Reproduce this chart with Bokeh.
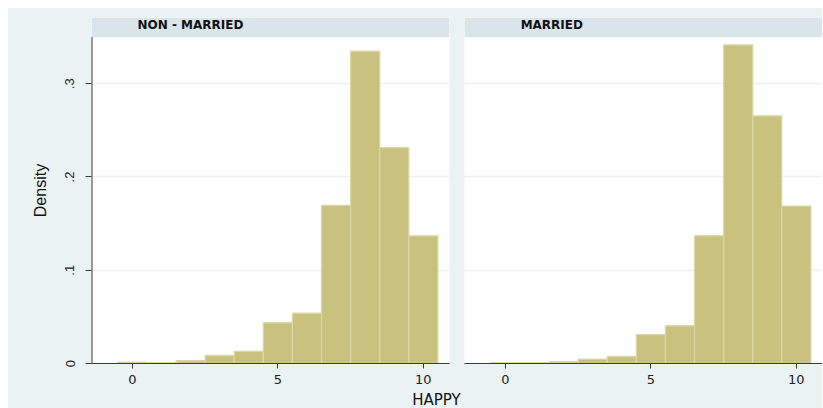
from bokeh.plotting import figure
from bokeh.layouts import row, column
from bokeh.models import Range1d, FixedTicker, CustomJSTickFormatter
from bokeh.core.properties import value
from bokeh.embed import file_html
from bokeh.resources import INLINE

# ---- data ----
happy = [0, 1, 2, 3, 4, 5, 6, 7, 8, 9, 10]
dens_non_married = [0.0015, 0.001, 0.003, 0.0086, 0.013, 0.0437, 0.054, 0.1696, 0.3348, 0.2315, 0.1369]
dens_married = [0.001, 0.0008, 0.002, 0.0046, 0.0075, 0.031, 0.0405, 0.137, 0.3416, 0.2656, 0.1688]
panel_titles = ["NON - MARRIED", "MARRIED"]
x_ticks = [0, 5, 10]
y_ticks = [0, 0.1, 0.2, 0.3]
y_grid = [0.1, 0.2, 0.3]

# ---- style ----
BG = "#EAF2F3"
HEADER = "#D9E5EB"
GRID = "#EAF2F3"
BAR_FILL = "#C8C27E"
BAR_LINE = "#DBD7A6"
AXIS = "#3a3a3a"

X0, X1 = -1.41, 10.9
Y0, Y1 = 0.0, 0.371
HDR_BOTTOM = 0.350
TOP_H = 382


def panel(title, title_x, dens, show_y, width, mbl, mbr):
    p = figure(width=width, height=TOP_H, output_backend="svg", toolbar_location=None,
               x_range=Range1d(X0, X1), y_range=Range1d(Y0, Y1))
    p.styles = {"background-color": BG}
    p.min_border = 0
    p.min_border_left = mbl
    p.min_border_right = mbr
    p.min_border_top = 9
    p.min_border_bottom = 27
    p.background_fill_color = "white"
    p.border_fill_color = BG
    p.outline_line_color = None
    p.xgrid.visible = False
    p.ygrid.ticker = FixedTicker(ticks=y_grid)
    p.ygrid.grid_line_color = GRID
    p.ygrid.grid_line_width = 1.5

    p.vbar(x=happy, top=dens, bottom=0, width=1.0,
           fill_color=BAR_FILL, line_color=BAR_LINE, line_width=1.3)

    # panel header strip
    p.quad(left=[X0], right=[X1], bottom=[HDR_BOTTOM], top=[Y1],
           fill_color=HEADER, line_color=None)
    p.text(x=[title_x], y=[0.3625], text=[title], text_align="left",
           text_baseline="middle", text_font=value("DejaVu Sans"),
           text_font_style="bold", text_font_size="12px", text_color="#111111")

    ax = p.xaxis[0]
    ax.ticker = FixedTicker(ticks=x_ticks)
    ax.axis_line_color = AXIS
    ax.axis_line_width = 1
    ax.major_tick_line_color = AXIS
    ax.major_tick_out = 5
    ax.major_tick_in = 0
    ax.minor_tick_line_color = None
    ax.major_label_standoff = 6
    ax.major_label_text_font = "DejaVu Sans"
    ax.major_label_text_font_size = "13px"
    ax.major_label_text_color = "#222222"

    ay = p.yaxis[0]
    if show_y:
        ay.ticker = FixedTicker(ticks=y_ticks)
        ay.formatter = CustomJSTickFormatter(
            code="return tick == 0 ? '0' : tick.toFixed(1).replace(/^0/, '');")
        ay.axis_line_color = None
        ay.major_tick_line_color = AXIS
        ay.major_tick_out = 6
        ay.major_tick_in = 0
        ay.minor_tick_line_color = None
        ay.major_label_orientation = "vertical"
        ay.major_label_standoff = 11
        ay.major_label_text_font = "Liberation Sans"
        ay.major_label_text_font_size = "13px"
        ay.major_label_text_color = "#222222"
        ay.axis_label = "Density"
        ay.axis_label_text_font = "Liberation Sans"
        ay.axis_label_text_font_size = "16px"
        ay.axis_label_text_font_style = "normal"
        ay.axis_label_text_color = "#111111"
        ay.axis_label_standoff = 14
        # y-axis line stops at the header strip
        p.segment(x0=[X0], y0=[Y0], x1=[X0], y1=[HDR_BOTTOM],
                  line_color=AXIS, line_width=2)
    else:
        ay.visible = False
    return p


p1 = panel(panel_titles[0], 0.17, dens_non_married, True, 448, 83, 7)
p2 = panel(panel_titles[1], 0.52, dens_married, False, 366, 8, 0)

pb = figure(width=814, height=18, output_backend="svg", toolbar_location=None,
            x_range=Range1d(0, 814), y_range=Range1d(0, 18),
            x_axis_type=None, y_axis_type=None)
pb.styles = {"background-color": BG}
pb.min_border = 0
pb.background_fill_color = BG
pb.border_fill_color = BG
pb.outline_line_color = None
pb.text(x=[428], y=[17.5], text=["HAPPY"], text_align="center", text_baseline="top",
        text_font=value("DejaVu Sans"), text_font_size="15px", text_color="#111111")

top_row = row(p1, p2, styles={"background-color": BG})
layout = column(top_row, pb, margin=(8, 0, 0, 8), styles={"background-color": BG})

open("out.html", "w").write(file_html(layout, INLINE))
